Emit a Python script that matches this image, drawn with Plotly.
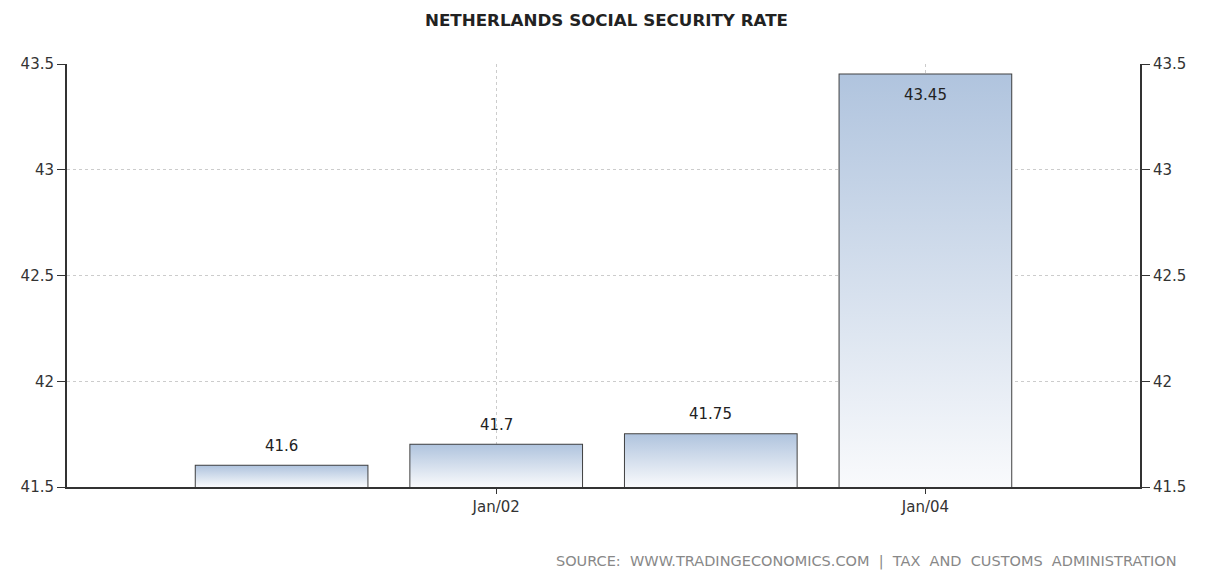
import plotly.graph_objects as go

categories = ["Jan/01", "Jan/02", "Jan/03", "Jan/04"]
values = [41.6, 41.7, 41.75, 43.45]
tick_positions = [1, 3]
tick_labels = ["Jan/02", "Jan/04"]
y_ticks = [41.5, 42, 42.5, 43, 43.5]
y_tick_labels = ["41.5", "42", "42.5", "43", "43.5"]
y_min, y_max = 41.5, 43.5

BAR_W = 0.8
font_fam = "DejaVu Sans, Verdana, sans-serif"

fig = go.Figure()

# gradient-filled bars
for i, v in enumerate(values):
    x0, x1 = i - BAR_W / 2, i + BAR_W / 2
    fig.add_trace(go.Scatter(
        x=[x0, x1, x1, x0, x0],
        y=[y_min, y_min, v, v, y_min],
        mode="lines",
        line=dict(width=0, color="rgba(0,0,0,0)"),
        fill="toself",
        fillgradient=dict(type="vertical",
                          colorscale=[[0, "#f9fafc"], [1, "#b0c4de"]]),
        hoverinfo="skip",
        showlegend=False,
    ))

# outlines
fig.add_trace(go.Bar(
    x=list(range(len(values))),
    y=[v - y_min for v in values],
    base=y_min,
    width=BAR_W,
    marker=dict(color="rgba(0,0,0,0)", line=dict(color="#404040", width=2)),
    customdata=categories,
    hovertemplate="%{customdata}: %{text}<extra></extra>",
    text=[str(v) for v in values],
    textposition="none",
    showlegend=False,
))

# invisible trace for right axis
fig.add_trace(go.Scatter(x=[0], y=[y_min], yaxis="y2", mode="markers",
                         marker=dict(opacity=0), hoverinfo="skip", showlegend=False))

for i, v in enumerate(values):
    inside = v > 43
    fig.add_annotation(
        x=i, y=v, text=str(v), showarrow=False,
        yanchor="top" if inside else "bottom",
        yshift=-9 if inside else 9,
        font=dict(family=font_fam, size=15, color="#222"),
    )

axis_font = dict(family=font_fam, size=15, color="#333")

fig.update_layout(
    width=1213, height=574,
    margin=dict(l=67, r=73, t=64, b=87),
    plot_bgcolor="white", paper_bgcolor="white",
    title=dict(text="<b>NETHERLANDS SOCIAL SECURITY RATE</b>", x=0.5, xanchor="center",
               y=0.965, yanchor="middle",
               font=dict(family=font_fam, size=16.7, color="#222")),
    xaxis=dict(range=[-1, 4], tickvals=tick_positions, ticktext=tick_labels,
               showgrid=True, gridcolor="#cccccc", griddash="dot", gridwidth=1,
               showline=True, linecolor="#333", linewidth=2,
               ticks="outside", ticklen=5, tickcolor="#333",
               tickfont=axis_font, zeroline=False, fixedrange=True),
    yaxis=dict(range=[y_min, y_max], tickvals=y_ticks, ticktext=y_tick_labels,
               showgrid=True, gridcolor="#cccccc", griddash="dot", gridwidth=1,
               showline=True, linecolor="#333", linewidth=2,
               ticks="outside", ticklen=8, tickcolor="#333",
               tickfont=axis_font, zeroline=False),
    yaxis2=dict(range=[y_min, y_max], tickvals=y_ticks, ticktext=y_tick_labels,
                overlaying="y", side="right", showgrid=False,
                showline=True, linecolor="#333", linewidth=2,
                ticks="outside", ticklen=8, tickcolor="#333",
                tickfont=axis_font, zeroline=False),
)

fig.add_annotation(
    text="SOURCE:  WWW.TRADINGECONOMICS.COM  |  TAX  AND  CUSTOMS  ADMINISTRATION",
    xref="paper", yref="paper", x=1.036, y=-0.175, xanchor="right", yanchor="middle",
    showarrow=False,
    font=dict(family="DejaVu Sans, sans-serif", size=14.5, color="#888"),
)

fig.write_html("out.html")
